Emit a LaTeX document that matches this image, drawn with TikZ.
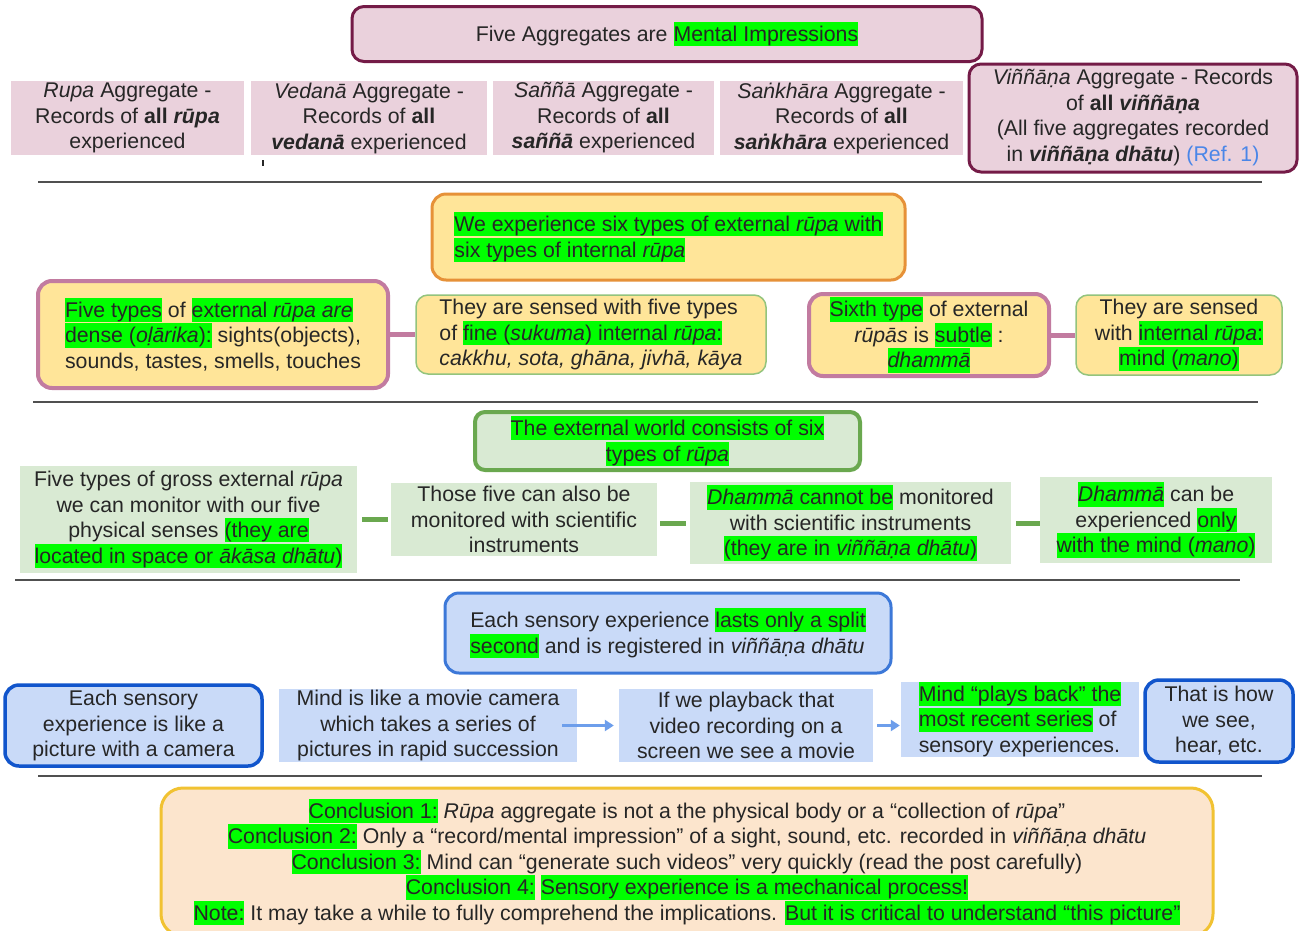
\documentclass[tikz,border=0pt]{standalone}
\usepackage{fontspec}
\setmainfont{Liberation Sans}
\usetikzlibrary{arrows.meta}
\definecolor{txt}{HTML}{262626}
\definecolor{hlgreen}{HTML}{00FF00}
\definecolor{pinkf}{HTML}{EAD1DC}
\definecolor{maroon}{HTML}{741B47}
\definecolor{yellowf}{HTML}{FFE599}
\definecolor{orangeb}{HTML}{E69138}
\definecolor{mauve}{HTML}{C27BA0}
\definecolor{lgreenb}{HTML}{93C47D}
\definecolor{greenf}{HTML}{D9EAD3}
\definecolor{greenb}{HTML}{6AA84F}
\definecolor{bluef}{HTML}{C9DAF8}
\definecolor{blueb}{HTML}{3C78D8}
\definecolor{bluedk}{HTML}{1155CC}
\definecolor{bluearr}{HTML}{6D9EEB}
\definecolor{concf}{HTML}{FCE5CD}
\definecolor{concb}{HTML}{F1C232}
\definecolor{refblue}{HTML}{4A86E8}
\definecolor{sepline}{HTML}{505050}
\newcommand{\hlstrut}{\rule[-4.8pt]{0pt}{24.1pt}}
\newcommand{\hlg}[1]{{\setlength{\fboxsep}{0pt}\colorbox{hlgreen}{\hlstrut#1}}}
\tikzset{
  base/.style={inner sep=0pt, align=center, text=txt, font=\fontsize{21.3}{25.5}\selectfont},
  pinkflat/.style={base, fill=pinkf},
  pinkround/.style={base, fill=pinkf, draw=maroon, line width=3pt, rounded corners=12pt},
  orangebox/.style={base, fill=yellowf, draw=orangeb, line width=3pt, rounded corners=14pt},
  mauvebox/.style={base, fill=yellowf, draw=mauve, line width=4pt, rounded corners=14pt},
  lgbox/.style={base, fill=yellowf, draw=lgreenb, line width=1.5pt, rounded corners=12pt},
  gtitlebox/.style={base, fill=greenf, draw=greenb, line width=4pt, rounded corners=10pt},
  gflat/.style={base, fill=greenf},
  btitlebox/.style={base, fill=bluef, draw=blueb, line width=3pt, rounded corners=14pt},
  bround/.style={base, fill=bluef, draw=bluedk, line width=3.5pt, rounded corners=14pt},
  bflat/.style={base, fill=bluef},
  concbox/.style={base, fill=concf, draw=concb, line width=3pt, rounded corners=22pt},
  mconn/.style={draw=mauve, line width=5pt},
  gconn/.style={draw=greenb, line width=5pt},
  barrow/.style={draw=bluearr, line width=2.5pt, -{Triangle[length=9pt,width=11pt]}},
  sepl/.style={draw=sepline, line width=1.5pt},
}
\begin{document}
\begin{tikzpicture}[x=1pt,y=-1pt]
\useasboundingbox[fill=white] (0,0) rectangle (1304,930);

% separators
\draw[sepl] (38,182) -- (1262,182);
\draw[sepl] (33,402) -- (1258,402);
\draw[sepl] (15,580) -- (1240,580);
\draw[sepl] (38,776) -- (1262,776);
\draw[line width=1.2pt, draw=txt] (263,160) -- (263,166);

% section 1
\node[pinkround, minimum width=630pt, minimum height=55pt] (title) at (667,34)
  {Five Aggregates are \hlg{Mental Impressions}};
\node[pinkflat, minimum width=233pt, minimum height=74pt] (r1) at (127.5,118)
  {\textit{Rupa} Aggregate -\\Records of \textbf{all \textit{rūpa}}\\experienced};
\node[pinkflat, minimum width=236pt, minimum height=74pt] (r2) at (369,118)
  {\textit{Vedanā} Aggregate -\\Records of \textbf{all}\\\textbf{\textit{vedanā}} experienced};
\node[pinkflat, minimum width=221pt, minimum height=74pt] (r3) at (603.5,118)
  {\textit{Saññā} Aggregate -\\Records of \textbf{all}\\\textbf{\textit{saññā}} experienced};
\node[pinkflat, minimum width=243pt, minimum height=74pt] (r4) at (841.5,118)
  {\textit{Saṅkhāra} Aggregate -\\Records of \textbf{all}\\\textbf{\textit{saṅkhāra}} experienced};
\node[pinkround, minimum width=328pt, minimum height=108pt] (r5) at (1133,118)
  {\raisebox{-2.5pt}{\begin{tabular}{@{}c@{}}\textit{Viññāṇa} Aggregate - Records\\of \textbf{all \textit{viññāṇa}}\\(All five aggregates recorded\\in \textbf{\textit{viññāṇa dhātu}}) \textcolor{refblue}{(Ref. 1)}\end{tabular}}};

% section 2
\node[orangebox, align=left, minimum width=473pt, minimum height=86pt] (otitle) at (668.5,237)
  {\hlg{We experience six types of external \textit{rūpa} with}\\\hlg{six types of internal \textit{rūpa}}};
\node[mauvebox, align=left, minimum width=350pt, minimum height=107pt] (A) at (213,334.5)
  {\hlg{Five types} of \hlg{external \textit{rūpa are}}\\\hlg{dense (\textit{oḷārika}):} sights(objects),\\sounds, tastes, smells, touches};
\node[lgbox, align=left, minimum width=350pt, minimum height=79pt] (B) at (591,334.5)
  {They are sensed with five types\\of \hlg{fine (\textit{sukuma}) internal \textit{rūpa}:}\\\textit{cakkhu, sota, ghāna, jivhā, kāya}};
\node[mauvebox, minimum width=240pt, minimum height=82pt] (C) at (929,335)
  {\hlg{Sixth type} of external\\\textit{rūpās} is \hlg{subtle} :\\\hlg{\textit{dhammā}}};
\node[lgbox, minimum width=206pt, minimum height=80pt] (D) at (1179,335)
  {They are sensed\\with \hlg{internal \textit{rūpa}:}\\\hlg{mind (\textit{mano})}};
\draw[mconn] (A.east) -- (B.west);
\draw[mconn] (C.east) -- (D.west);

% section 3
\node[gtitlebox, minimum width=385pt, minimum height=58pt] (gtitle) at (667.5,441)
  {\hlg{The external world consists of six}\\\hlg{types of \textit{rūpa}}};
\node[gflat, minimum width=337pt, minimum height=107pt] (E) at (188.5,519.5)
  {Five types of gross external \textit{rūpa}\\we can monitor with our five\\physical senses \hlg{(they are}\\\hlg{located in space or \textit{ākāsa dhātu})}};
\node[gflat, minimum width=266pt, minimum height=73pt] (F) at (524,519.5)
  {Those five can also be\\monitored with scientific\\instruments};
\node[gflat, minimum width=321pt, minimum height=82pt] (G) at (850.5,523)
  {\hlg{\textit{Dhammā} cannot be} monitored\\with scientific instruments\\\hlg{(they are in \textit{viññāṇa dhātu})}};
\node[gflat, minimum width=232pt, minimum height=86pt] (H) at (1156,520)
  {\hlg{\textit{Dhammā}} can be\\experienced \hlg{only}\\\hlg{with the mind (\textit{mano})}};
\draw[gconn, shorten <=5pt, shorten >=3pt] (E.east) -- (F.west);
\draw[gconn, shorten <=3pt, shorten >=4pt] (G.west -| F.east) -- (G.west);
\draw[gconn, shorten <=5pt] (G.east) -- (G.east -| H.west);

% section 4
\node[btitlebox, align=left, minimum width=446pt, minimum height=80pt] (btitle) at (668,633)
  {Each sensory experience \hlg{lasts only a split}\\\hlg{second} and is registered in \textit{viññāṇa dhātu}};
\node[bround, minimum width=257pt, minimum height=81pt] (I) at (133.5,725.5)
  {Each sensory\\experience is like a\\picture with a camera};
\node[bflat, minimum width=298pt, minimum height=73pt] (J) at (428,725.5)
  {Mind is like a movie camera\\which takes a series of\\pictures in rapid succession};
\node[bflat, minimum width=254pt, minimum height=73pt] (K) at (746,725.5)
  {If we playback that\\video recording on a\\screen we see a movie};
\node[bflat, align=left, minimum width=238pt, minimum height=75pt] (L) at (1020,719.5)
  {\hlg{Mind “plays back” the}\\\hlg{most recent series} of\\sensory experiences.};
\node[bround, minimum width=148pt, minimum height=82pt] (M) at (1219,721)
  {That is how\\we see,\\hear, etc.};
\draw[barrow, shorten >=5pt] ([xshift=-15pt]J.east) -- (K.west);
\draw[barrow, shorten <=4pt, shorten >=1pt] (K.east) -- (K.east -| L.west);

% section 5
\node[concbox, minimum width=1052pt, minimum height=148pt] (conc) at (687,862)
  {\hlg{Conclusion 1:} \textit{Rūpa} aggregate is not a the physical body or a “collection of \textit{rūpa}”\\
   \hlg{Conclusion 2:} Only a “record/mental impression” of a sight, sound, etc. recorded in \textit{viññāṇa dhātu}\\
   \hlg{Conclusion 3:} Mind can “generate such videos” very quickly (read the post carefully)\\
   \hlg{Conclusion 4:} \hlg{Sensory experience is a mechanical process!}\\
   \hlg{Note:} It may take a while to fully comprehend the implications. \hlg{But it is critical to understand “this picture”}};
\end{tikzpicture}
\end{document}
